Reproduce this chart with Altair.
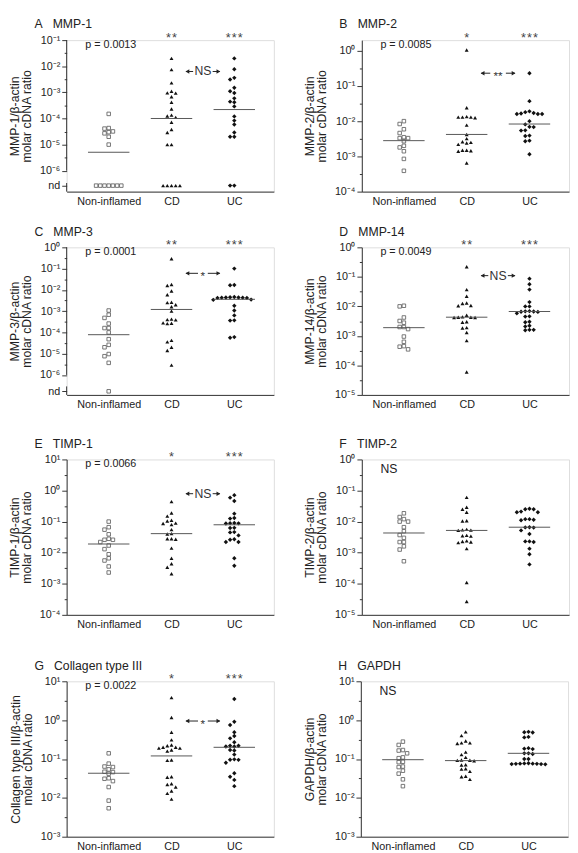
import math
import altair as alt
import pandas as pd

GROUPS = ["Non-inflamed", "CD", "UC"]
ND = 0.0  # "nd" = not detected

# ---- A  MMP-1
A_NI = [1.5e-4, 4.3e-5, 4.1e-5, 3.2e-5, 3.0e-5, 2.7e-5, 2.0e-5, 1.0e-5, ND, ND, ND, ND, ND, ND, ND]
A_CD = [2.0e-2, 7.4e-3, 2.3e-3, 1.1e-3, 9.6e-4, 9.4e-4, 6.8e-4, 4.2e-4, 2.3e-4, 1.35e-4, 1.25e-4,
        1.1e-4, 7.2e-5, 3.8e-5, 2.9e-5, 1.0e-5, 1.0e-5, ND, ND, ND, ND, ND]
A_UC = [2.0e-2, 7.7e-3, 3.6e-3, 3.1e-3, 1.5e-3, 1.1e-3, 9.5e-4, 5.9e-4, 4.4e-4, 4.2e-4, 2.9e-4,
        1.2e-4, 8.3e-5, 5.9e-5, 2.9e-5, 2.0e-5, 2.0e-5, ND, ND]
A_MED = [5.1e-6, 1.0e-4, 2.2e-4]

# ---- B  MMP-2
B_NI = [1.0e-2, 8.3e-3, 5.9e-3, 4.6e-3, 3.5e-3, 3.3e-3, 3.3e-3, 2.7e-3, 2.0e-3, 1.8e-3, 1.4e-3, 8.5e-4, 3.9e-4]
B_CD = [1.05, 2.4e-2, 1.35e-2, 1.3e-2, 1.3e-2, 1.3e-2, 1.25e-2, 7.7e-3, 4.2e-3, 3.2e-3, 2.6e-3,
        2.5e-3, 2.4e-3, 2.2e-3, 1.5e-3, 1.5e-3, 1.45e-3, 1.4e-3, 6.5e-4]
B_UC = [0.23, 3.7e-2, 1.9e-2, 1.8e-2, 1.7e-2, 1.65e-2, 1.6e-2, 1.6e-2, 1.6e-2, 1.0e-2, 8.1e-3,
        6.9e-3, 6.8e-3, 5.5e-3, 5.4e-3, 3.9e-3, 3.8e-3, 2.8e-3, 2.7e-3, 1.15e-3]
B_MED = [2.8e-3, 4.2e-3, 8.3e-3]

# ---- C  MMP-3
C_NI = [1.07e-3, 6.8e-4, 4.8e-4, 2.6e-4, 1.6e-4, 1.6e-4, 1.0e-4, 4.8e-5, 2.6e-5, 2.0e-5, 9.6e-6,
        7.6e-6, 3.7e-6, ND]
C_CD = [0.29, 1.8e-2, 1.6e-2, 8.9e-3, 5.9e-3, 2.6e-3, 2.5e-3, 2.0e-3, 1.6e-3, 1.0e-3, 4.2e-4,
        4.0e-4, 3.9e-4, 2.8e-4, 2.7e-4, 2.6e-4, 4.2e-5, 3.6e-5, 2.0e-5, 1.4e-5, 2.9e-6]
C_UC = [0.1, 1.7e-2, 1.65e-2, 4.6e-3, 4.5e-3, 4.4e-3, 4.4e-3, 4.3e-3, 4.3e-3, 4.2e-3, 4.2e-3,
        3.5e-3, 3.4e-3, 1.8e-3, 1.07e-3, 6.3e-4, 3.7e-4, 3.6e-4, 6.0e-5, 5.6e-5]
C_MED = [7.8e-5, 1.2e-3, 3.6e-3]

# ---- D  MMP-14
D_NI = [1.05e-2, 1.0e-2, 4.2e-3, 3.2e-3, 2.8e-3, 2.0e-3, 2.0e-3, 1.7e-3, 9.5e-4, 6.3e-4, 4.5e-4, 4.3e-4, 3.5e-4]
D_CD = [0.22, 3.7e-2, 2.2e-2, 1.3e-2, 1.25e-2, 1.07e-2, 1.05e-2, 5.0e-3, 4.4e-3, 4.3e-3, 4.3e-3,
        4.2e-3, 4.2e-3, 3.0e-3, 2.9e-3, 1.9e-3, 1.85e-3, 1.3e-3, 6.9e-4, 6.0e-5]
D_UC = [8.7e-2, 5.6e-2, 3.7e-2, 1.4e-2, 1.0e-2, 1.0e-2, 6.9e-3, 6.8e-3, 6.7e-3, 6.6e-3, 6.5e-3,
        5.8e-3, 4.6e-3, 4.5e-3, 3.0e-3, 2.9e-3, 2.2e-3, 2.1e-3, 1.6e-3, 1.6e-3, 1.55e-3]
D_MED = [1.9e-3, 4.3e-3, 6.7e-3]

# ---- E  TIMP-1
E_NI = [0.1, 6.6e-2, 5.5e-2, 3.9e-2, 2.8e-2, 2.6e-2, 2.6e-2, 2.2e-2, 1.7e-2, 1.3e-2, 8.9e-3,
        6.6e-3, 5.6e-3, 3.6e-3, 2.3e-3]
E_CD = [0.44, 0.19, 0.15, 0.11, 0.105, 8.9e-2, 8.7e-2, 8.0e-2, 5.5e-2, 4.1e-2, 4.0e-2, 2.8e-2,
        2.8e-2, 2.7e-2, 1.4e-2, 6.6e-3, 4.4e-3, 3.4e-3, 2.1e-3]
E_UC = [0.71, 0.59, 0.46, 0.18, 0.13, 0.125, 9.0e-2, 8.9e-2, 8.8e-2, 8.7e-2, 6.3e-2, 6.2e-2,
        4.6e-2, 4.5e-2, 3.6e-2, 2.7e-2, 2.6e-2, 2.2e-2, 2.2e-2, 6.6e-3, 3.8e-3]
E_MED = [1.9e-2, 4.1e-2, 7.9e-2]

# ---- F  TIMP-2
F_NI = [1.85e-2, 1.4e-2, 1.2e-2, 1.0e-2, 1.0e-2, 6.6e-3, 4.9e-3, 3.7e-3, 3.0e-3, 2.2e-3, 2.2e-3,
        1.6e-3, 1.26e-3, 5.3e-4]
F_CD = [6.0e-2, 2.9e-2, 2.5e-2, 2.0e-2, 1.07e-2, 1.05e-2, 5.6e-3, 5.4e-3, 5.3e-3, 5.2e-3, 3.6e-3,
        3.5e-3, 3.4e-3, 2.4e-3, 2.3e-3, 2.2e-3, 2.1e-3, 1.35e-3, 1.1e-4, 2.7e-5]
F_UC = [2.6e-2, 2.5e-2, 2.5e-2, 2.1e-2, 2.0e-2, 2.0e-2, 1.2e-2, 1.2e-2, 1.15e-2, 1.1e-2, 6.6e-3,
        6.5e-3, 6.4e-3, 5.2e-3, 4.0e-3, 2.3e-3, 2.3e-3, 2.2e-3, 1.35e-3, 8.9e-4, 4.2e-4]
F_MED = [4.3e-3, 5.2e-3, 6.6e-3]

# ---- G  Collagen type III
G_NI = [0.14, 7.6e-2, 6.4e-2, 6.2e-2, 5.4e-2, 4.7e-2, 4.6e-2, 4.2e-2, 3.2e-2, 3.1e-2, 2.7e-2,
        1.9e-2, 8.5e-3, 5.4e-3]
G_CD = [3.8, 1.17, 0.49, 0.31, 0.23, 0.22, 0.2, 0.2, 0.19, 0.19, 0.17, 0.16, 9.4e-2, 9.2e-2,
        3.5e-2, 3.4e-2, 2.3e-2, 2.2e-2, 1.9e-2, 1.5e-2, 1.3e-2, 9.3e-3]
G_UC = [3.5, 0.91, 0.75, 0.49, 0.39, 0.34, 0.27, 0.22, 0.22, 0.21, 0.21, 0.17, 0.165, 0.13,
        9.8e-2, 9.6e-2, 9.5e-2, 8.0e-2, 4.3e-2, 3.5e-2, 2.9e-2, 2.0e-2]
G_MED = [4.3e-2, 0.12, 0.2]

# ---- H  GAPDH
H_NI = [0.28, 0.23, 0.17, 0.165, 0.14, 0.11, 0.105, 8.5e-2, 8.3e-2, 6.4e-2, 6.2e-2, 5.0e-2,
        4.2e-2, 3.0e-2, 2.0e-2]
H_CD = [0.5, 0.4, 0.29, 0.26, 0.26, 0.25, 0.15, 0.13, 0.11, 9.4e-2, 9.3e-2, 9.2e-2, 9.0e-2,
        7.1e-2, 7.0e-2, 5.6e-2, 5.5e-2, 4.8e-2, 3.6e-2, 3.5e-2, 3.0e-2]
H_UC = [0.5, 0.49, 0.48, 0.37, 0.36, 0.19, 0.185, 0.18, 0.14, 0.14, 0.135, 0.1, 0.1, 7.8e-2,
        7.7e-2, 7.6e-2, 7.6e-2, 7.5e-2, 7.5e-2, 7.4e-2, 7.4e-2, 7.3e-2]
H_MED = [9.6e-2, 9.1e-2, 0.14]

PANELS = [
    dict(letter="A", name="MMP-1", ytitle=["MMP-1/β-actin", "molar cDNA ratio"], dom=(-6.8, -1),
         nd=-6.57, ndtop=-6.47, groups=[A_NI, A_CD, A_UC], med=A_MED, stat="p = 0.0013",
         stars=["", "**", "***"], arrow=(6.3e-3, "NS")),
    dict(letter="B", name="MMP-2", ytitle=["MMP-2/β-actin", "molar cDNA ratio"], dom=(-4, 0.3),
         nd=None, groups=[B_NI, B_CD, B_UC], med=B_MED, stat="p = 0.0085",
         stars=["", "*", "***"], arrow=(0.23, "**")),
    dict(letter="C", name="MMP-3", ytitle=["MMP-3/β-actin", "molar cDNA ratio"], dom=(-6.94, 0),
         nd=-6.77, ndtop=-6.54, groups=[C_NI, C_CD, C_UC], med=C_MED, stat="p = 0.0001",
         stars=["", "**", "***"], arrow=(0.06, "*")),
    dict(letter="D", name="MMP-14", ytitle=["MMP-14/β-actin", "molar cDNA ratio"], dom=(-5, 0),
         nd=None, groups=[D_NI, D_CD, D_UC], med=D_MED, stat="p = 0.0049",
         stars=["", "**", "***"], arrow=(0.11, "NS")),
    dict(letter="E", name="TIMP-1", ytitle=["TIMP-1/β-actin", "molar cDNA ratio"], dom=(-4, 1),
         nd=None, groups=[E_NI, E_CD, E_UC], med=E_MED, stat="p = 0.0066",
         stars=["", "*", "***"], arrow=(0.79, "NS")),
    dict(letter="F", name="TIMP-2", ytitle=["TIMP-2/β-actin", "molar cDNA ratio"], dom=(-5, 0),
         nd=None, groups=[F_NI, F_CD, F_UC], med=F_MED, stat="NS",
         stars=["", "", ""], arrow=None),
    dict(letter="G", name="Collagen type III", ytitle=["Collagen type III/β-actin", "molar cDNA ratio"],
         dom=(-3, 1), nd=None, groups=[G_NI, G_CD, G_UC], med=G_MED, stat="p = 0.0022",
         stars=["", "*", "***"], arrow=(0.95, "*")),
    dict(letter="H", name="GAPDH", ytitle=["GAPDH/β-actin", "molar cDNA ratio"], dom=(-3, 1),
         nd=None, groups=[H_NI, H_CD, H_UC], med=H_MED, stat="NS",
         stars=["", "", ""], arrow=None),
]

FONT = "Liberation Sans"
TXT = "#222"
AX = "#333"
XD = [-0.67, 2.63]
E = "(log(datum.value)/LN10)"
SUP = {"-": "⁻", "0": "⁰", "1": "¹", "2": "²", "3": "³", "4": "⁴", "5": "⁵",
       "6": "⁶", "7": "⁷", "8": "⁸", "9": "⁹"}
MARKS = [dict(shape="square", filled=False, size=13, color="#666", strokeWidth=0.9, opacity=1),
         dict(shape="triangle-up", filled=True, size=16, color="#111", opacity=1),
         dict(shape="diamond", filled=True, size=20, color="#111", opacity=1)]


def sup(k):
    return "".join(SUP[c] for c in str(k))


def beeswarm(ypx, gap):
    order = sorted(range(len(ypx)), key=lambda i: -ypx[i])
    cand = [0]
    for k in range(1, 14):
        cand += [-k, k]
    placed, slots = [], [0] * len(ypx)
    for i in order:
        for s in cand:
            if all(ps != s or abs(py - ypx[i]) >= gap for ps, py in placed):
                break
        placed.append((s, ypx[i]))
        slots[i] = s
    return slots


def y_axis(p):
    emin, emax = p["dom"]
    nd = p["nd"]
    lo = -6 if nd is not None else emin
    majors = list(range(math.ceil(emin - 1e-9), math.floor(emax + 1e-9) + 1))
    minors = [k + 0.5 for k in range(math.floor(lo), math.ceil(emax)) if lo <= k + 0.5 <= emax]
    vals = [10.0 ** k for k in majors + minors]
    parts = [f"abs({E} - ({k})) < 0.01 ? '10{sup(k)}'" for k in majors]
    minor_test = f"abs({E} - round({E})) > 0.25"
    if nd is not None:
        vals.append(10.0 ** nd)
        parts.append(f"abs({E} - ({nd})) < 0.01 ? 'nd'")
        minor_test += f" && abs({E} - ({nd})) > 0.01"
    return alt.Axis(values=vals, labelExpr=" : ".join(parts) + " : ''",
                    tickSize={"condition": {"test": minor_test, "value": 2.5}, "value": 5},
                    domain=nd is None, domainColor=AX, tickColor=AX, grid=False,
                    title=p["ytitle"], titleFontSize=12.5, titleFontWeight="normal",
                    titleLineHeight=12.5, titlePadding=6, titleColor=TXT,
                    labelFontSize=11, labelPadding=2, labelColor=TXT,
                    labelOverlap=False, labelFlush=False, labelBound=False)


def x_axis():
    names = ",".join(f"'{g}'" for g in GROUPS)
    return alt.Axis(values=[0, 1, 2], labelExpr=f"[{names}][datum.value]", ticks=False,
                    grid=False, title="", labelFontSize=11, labelPadding=4, labelColor=TXT,
                    domainColor=AX, labelOverlap=False, labelFlush=False)


def panel(p, W, H, lx):
    emin, emax = p["dom"]
    nd = p["nd"]
    ppd = H / (emax - emin)
    ppu = W / (XD[1] - XD[0])
    xs = alt.Scale(domain=XD, nice=False, zero=False)
    ys = alt.Scale(type="log", domain=[10.0 ** emin, 10.0 ** emax], nice=False)
    XA = x_axis()
    YA = y_axis(p)
    step = 4.3
    layers = []
    for gi, vals in enumerate(p["groups"]):
        v = [10.0 ** nd if x == ND else x for x in vals]
        ypx = [(math.log10(x) - emin) * ppd for x in v]
        sl = beeswarm(ypx, 3.9)
        df = pd.DataFrame({"grp": GROUPS[gi], "pos": [gi + s * step / ppu for s in sl], "val": v})
        layers.append(alt.Chart(df).mark_point(**MARKS[gi]).encode(
            x=alt.X("pos:Q", scale=xs, axis=XA),
            y=alt.Y("val:Q", scale=ys, axis=YA)))
    # medians
    mdf = pd.DataFrame({"pos": [g - 0.33 for g in range(3)], "b": [g + 0.33 for g in range(3)],
                        "val": p["med"]})
    layers.append(alt.Chart(mdf).mark_rule(color="#555", strokeWidth=1).encode(
        x=alt.X("pos:Q", scale=xs, axis=XA), x2="b:Q", y=alt.Y("val:Q", scale=ys, axis=YA)))
    # broken y axis line for nd panels
    if nd is not None:
        sdf = pd.DataFrame({"val": [1e-6, 10.0 ** emin], "y1": [10.0 ** emax, 10.0 ** p["ndtop"]]})
        layers.append(alt.Chart(sdf).mark_rule(color=AX, strokeWidth=1).encode(
            x=alt.value(0), y=alt.Y("val:Q", scale=ys, axis=YA), y2="y1:Q"))
    # panel label
    ldf = pd.DataFrame({"t": [f"{p['letter']}\u00a0\u00a0\u00a0{p['name']}"]})
    layers.append(alt.Chart(ldf).mark_text(align="left", baseline="middle", fontSize=12.5,
                                           color=TXT).encode(
        x=alt.value(lx), y=alt.value(-16), text="t:N"))
    # statistic
    big = p["stat"] == "NS"
    pdf = pd.DataFrame({"t": [p["stat"]]})
    layers.append(alt.Chart(pdf).mark_text(align="left", baseline="middle",
                                           fontSize=12.5 if big else 11, color=TXT).encode(
        x=alt.value(19), y=alt.value(10 if big else 5), text="t:N"))
    # stars
    st = [(g, s) for g, s in enumerate(p["stars"]) if s]
    if st:
        sdf2 = pd.DataFrame({"pos": [g for g, _ in st], "s": ["\u200a".join(s) for _, s in st]})
        layers.append(alt.Chart(sdf2).mark_text(align="center", baseline="alphabetic",
                                                fontSize=13, color="#444").encode(
            x=alt.X("pos:Q", scale=xs, axis=XA), y=alt.value(2), text="s:N"))
    # comparison arrow CD vs UC
    if p["arrow"] is not None:
        yv, lab = p["arrow"]
        half = {"NS": 10, "*": 5, "**": 8}[lab] / ppu
        l, r, c = 1.23, 1.77, 1.5
        adf = pd.DataFrame({"pos": [l, c + half], "b": [c - half, r], "val": [yv, yv]})
        layers.append(alt.Chart(adf).mark_rule(color="#222", strokeWidth=1).encode(
            x=alt.X("pos:Q", scale=xs, axis=XA), x2="b:Q", y=alt.Y("val:Q", scale=ys, axis=YA)))
        hdf = pd.DataFrame({"pos": [l + 1.5 / ppu], "val": [yv]})
        layers.append(alt.Chart(hdf).mark_point(shape="triangle-left", filled=True, size=20,
                                                color="#222", opacity=1).encode(
            x=alt.X("pos:Q", scale=xs, axis=XA), y=alt.Y("val:Q", scale=ys, axis=YA)))
        hdf2 = pd.DataFrame({"pos": [r - 1.5 / ppu], "val": [yv]})
        layers.append(alt.Chart(hdf2).mark_point(shape="triangle-right", filled=True, size=20,
                                                 color="#222", opacity=1).encode(
            x=alt.X("pos:Q", scale=xs, axis=XA), y=alt.Y("val:Q", scale=ys, axis=YA)))
        tdf = pd.DataFrame({"pos": [c], "val": [yv], "t": [lab]})
        star = "*" in lab
        layers.append(alt.Chart(tdf).mark_text(align="center",
                                               baseline="alphabetic" if star else "middle",
                                               dy=7 if star else 0,
                                               fontSize=12 if star else 12.5, color="#333").encode(
            x=alt.X("pos:Q", scale=xs, axis=XA), y=alt.Y("val:Q", scale=ys, axis=YA), text="t:N"))
    return alt.layer(*layers).properties(width=W, height=H)


HEIGHTS = [155, 151, 159, 159]
rows = []
for r in range(4):
    left = panel(PANELS[2 * r], 212, HEIGHTS[r], -33)
    right = panel(PANELS[2 * r + 1], 212, HEIGHTS[r], -23)
    rows.append(alt.hconcat(left, right, spacing=29))

body = alt.vconcat(rows[0],
                   alt.vconcat(rows[1],
                               alt.vconcat(rows[2], rows[3], spacing=29),
                               spacing=27),
                   spacing=18)

chart = body.properties(padding=0).configure_view(
    strokeWidth=0, stroke="transparent").configure(font=FONT)

chart.save("out.html", embed_options={"renderer": "svg", "actions": False})
